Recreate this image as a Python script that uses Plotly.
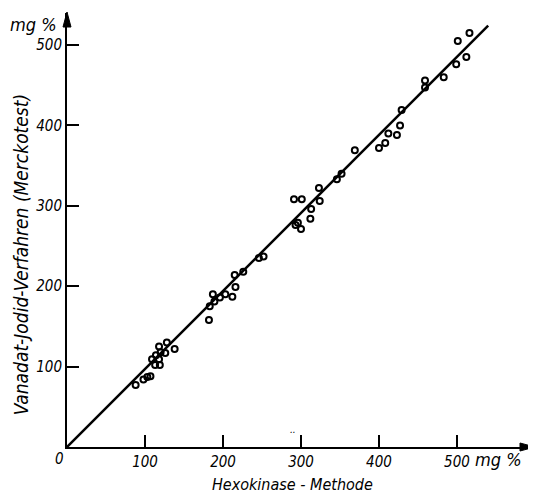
import plotly.graph_objects as go

# Measured points (Hexokinase-Methode vs Vanadat-Jodid-Verfahren), mg %
hexo = [88, 98, 103, 107, 109, 113, 119, 114, 118, 118, 120, 126, 128, 138,
        182, 183, 189, 187, 196, 203, 212, 216, 215, 226, 246, 252,
        293, 296, 300, 291, 301, 312, 313, 324, 323, 346, 352,
        369, 400, 408, 412, 423, 427, 429, 459, 459, 483, 499, 512, 501, 516]
vanadat = [77, 84, 87, 88, 109, 102, 102, 114, 109, 125, 118, 117, 130, 122,
           158, 175, 181, 190, 186, 190, 187, 199, 214, 218, 235, 237,
           276, 279, 271, 308, 308, 284, 296, 306, 322, 333, 340,
           369, 372, 378, 390, 388, 400, 419, 447, 456, 460, 476, 485, 505, 515]

# Regression line end points
line_x = [0, 540]
line_y = [0, 524]

tick_vals = [100, 200, 300, 400, 500]
tick_text = ["100", "200", "300", "400", "500"]

FONT = "Liberation Sans Narrow, DejaVu Sans Condensed, Arial Narrow, sans-serif"

fig = go.Figure()
fig.add_trace(go.Scatter(x=line_x, y=line_y, mode="lines",
                         line=dict(color="black", width=2.5), hoverinfo="skip"))
fig.add_trace(go.Scatter(x=hexo, y=vanadat, mode="markers",
                         marker=dict(symbol="circle-open", size=6, color="black",
                                     line=dict(width=2, color="black"))))

fig.update_layout(
    width=536, height=495,
    margin=dict(l=59, r=14, t=5, b=56),
    plot_bgcolor="white", paper_bgcolor="white",
    showlegend=False,
    xaxis=dict(range=[0, 593.6], showgrid=False, zeroline=False,
               showline=True, linecolor="black", linewidth=2,
               ticks="inside", ticklen=12, tickwidth=1.5, tickcolor="black",
               tickvals=tick_vals, ticktext=tick_text,
               tickfont=dict(family=FONT, size=15, color="black", style="italic")),
    yaxis=dict(range=[0, 539.8], showgrid=False, zeroline=False,
               showline=True, linecolor="black", linewidth=2,
               ticks="inside", ticklen=12, tickwidth=1.5, tickcolor="black",
               tickvals=tick_vals, ticktext=tick_text,
               tickfont=dict(family=FONT, size=15, color="black", style="italic")),
    shapes=[
        dict(type="path", xref="paper", yref="paper", xsizemode="pixel", ysizemode="pixel",
             xanchor=1, yanchor=0, path="M -10,4 L 5,0 L -10,-4 Z",
             fillcolor="black", line=dict(color="black", width=1)),
        dict(type="path", xref="paper", yref="paper", xsizemode="pixel", ysizemode="pixel",
             xanchor=0, yanchor=1, path="M -4,-14 L 0,1 L 4,-14 Z",
             fillcolor="black", line=dict(color="black", width=1)),
    ],
)

tf = dict(family=FONT, color="black", style="italic")
common = dict(showarrow=False, xanchor="center", yanchor="middle")
fig.add_annotation(text="Vanadat-Jodid-Verfahren (Merckotest)", textangle=-90,
                   xref="paper", yref="paper", x=0, y=0.442, xshift=-46,
                   font=dict(size=19, **tf), **common)
fig.add_annotation(text="Hexokinase - Methode", xref="paper", yref="paper",
                   x=0.486, y=0, yshift=-37, font=dict(size=16, **tf), **common)
fig.add_annotation(text="mg %", xref="paper", yref="paper", x=0, y=1,
                   xshift=-34, yshift=-11, font=dict(size=18, **tf), **common)
fig.add_annotation(text="mg %", xref="x", yref="paper", x=553, y=0,
                   yshift=-12, font=dict(size=18, **tf), **common)
fig.add_annotation(text="0", xref="x", yref="paper", x=0, y=0,
                   xshift=-8, yshift=-12, font=dict(size=15, **tf), **common)
fig.add_annotation(text="..", xref="x", yref="paper", x=290, y=0,
                   yshift=18, font=dict(size=10, **tf), **common)

fig.write_html("out.html")
